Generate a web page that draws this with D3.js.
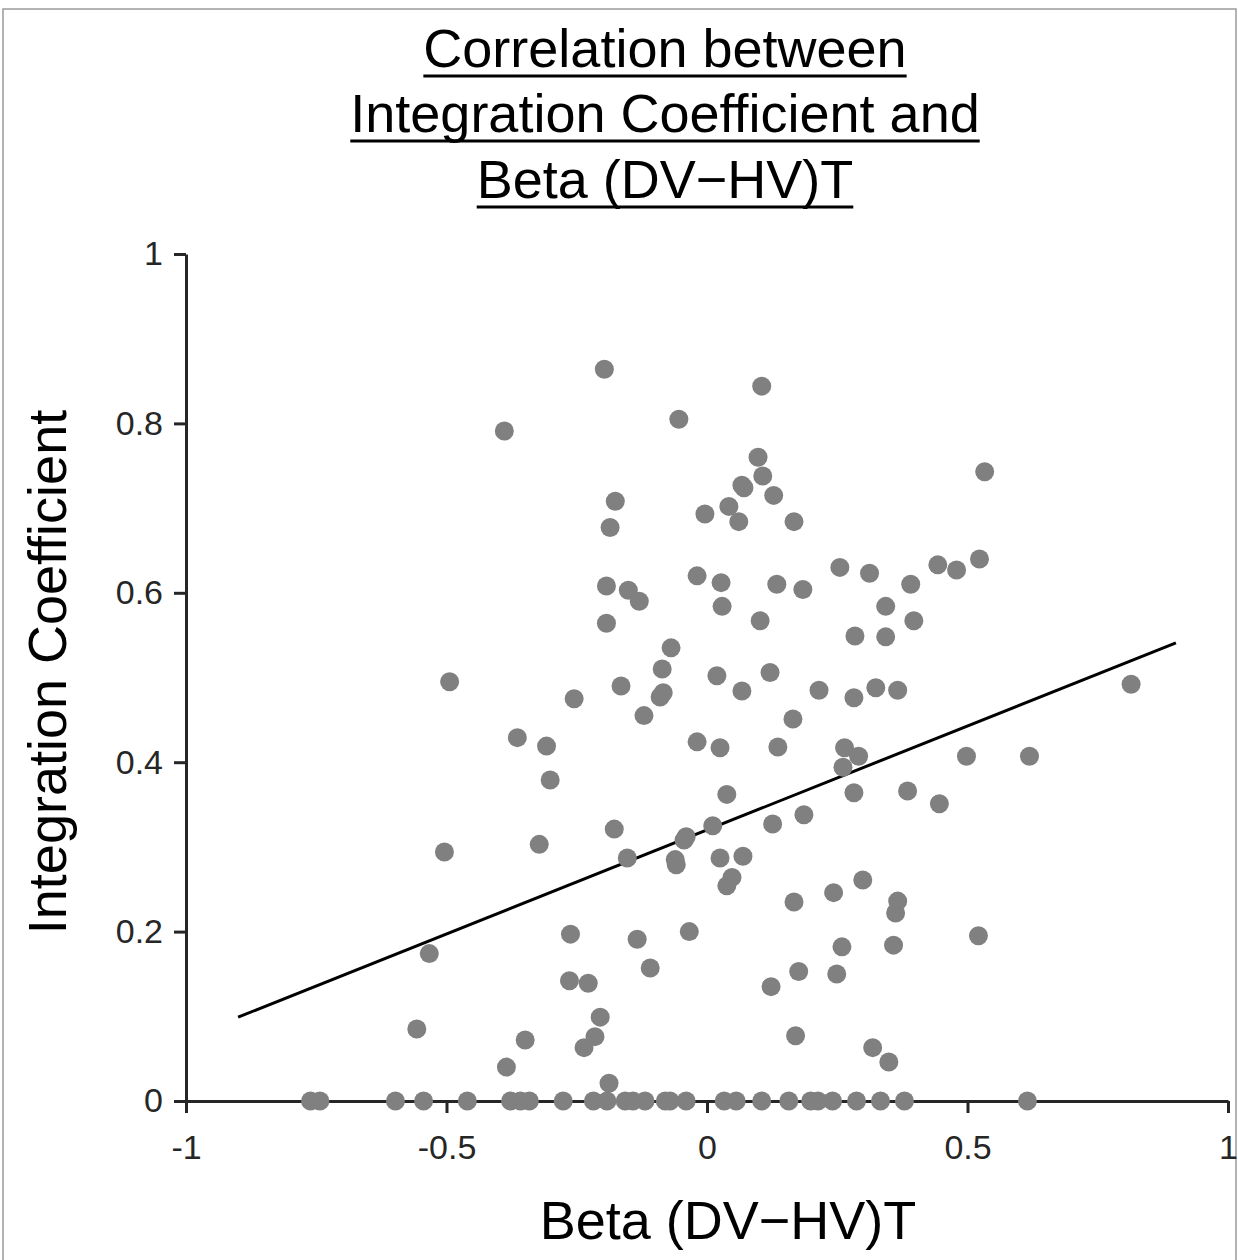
<!DOCTYPE html>
<html>
<head>
<meta charset="utf-8">
<script src="https://cdn.jsdelivr.net/npm/d3@7"></script>
<style>
  body { margin: 0; background: #fff; }
  svg { display: block; font-family: "Liberation Sans", Arial, Helvetica, sans-serif; }
</style>
</head>
<body>
<div id="chart"></div>
<script>
// values
const titleLines = ["Correlation between", "Integration Coefficient and", "Beta (DV\u2212HV)T"];
const xLabel = "Beta (DV\u2212HV)T";
const yLabel = "Integration Coefficient";
const xTicks = [-1, -0.5, 0, 0.5, 1];
const yTicks = [0, 0.2, 0.4, 0.6, 0.8, 1];

const betaX = [
  -0.197, -0.054, -0.389, 0.105, 0.098, 0.107, 0.067, 0.071, 0.128, 0.042,
  0.061, 0.167, -0.004, -0.176, -0.186, 0.533, -0.019, -0.193, -0.151, -0.130,
  0.027, 0.029, 0.134, 0.184, 0.255, 0.312, 0.391, 0.443, 0.479, 0.523,
  -0.193, 0.102, 0.343, 0.397, 0.284, 0.343, -0.069, -0.086, -0.084, -0.090,
  -0.165, -0.255, -0.121, -0.494, 0.019, 0.067, 0.121, 0.215, 0.282, 0.324,
  0.366, 0.165, 0.814, -0.364, -0.308, -0.301, -0.504, -0.322, -0.533, -0.557,
  -0.178, -0.153, -0.019, 0.025, -0.040, -0.044, 0.011, -0.061, -0.059, 0.025,
  0.136, 0.264, 0.291, 0.261, 0.498, 0.619, 0.038, 0.282, 0.385, 0.446,
  0.126, 0.186, 0.069, 0.048, 0.038, 0.299, 0.167, 0.243, 0.366, 0.362,
  0.521, 0.259, 0.358, 0.176, 0.249, 0.123, 0.170, 0.318, 0.349, -0.262,
  -0.134, -0.034, -0.109, -0.264, -0.228, -0.205, -0.215, -0.236, -0.349, -0.385,
  -0.188,
  // zero row
  -0.761, -0.743, -0.598, -0.544, -0.460, -0.377, -0.358, -0.341, -0.276, -0.218,
  -0.192, -0.157, -0.142, -0.119, -0.080, -0.071, -0.040, 0.033, 0.056, 0.105,
  0.157, 0.199, 0.213, 0.241, 0.287, 0.333, 0.379, 0.615
];
const integY = [
  0.864, 0.805, 0.791, 0.844, 0.760, 0.738, 0.727, 0.724, 0.715, 0.702,
  0.684, 0.684, 0.693, 0.708, 0.677, 0.743, 0.620, 0.608, 0.603, 0.590,
  0.612, 0.584, 0.610, 0.604, 0.630, 0.623, 0.610, 0.633, 0.627, 0.640,
  0.564, 0.567, 0.584, 0.567, 0.549, 0.548, 0.535, 0.510, 0.482, 0.477,
  0.490, 0.475, 0.455, 0.495, 0.502, 0.484, 0.506, 0.485, 0.476, 0.488,
  0.485, 0.451, 0.492, 0.429, 0.419, 0.379, 0.294, 0.303, 0.174, 0.085,
  0.321, 0.287, 0.424, 0.417, 0.312, 0.308, 0.325, 0.285, 0.279, 0.287,
  0.418, 0.417, 0.407, 0.394, 0.407, 0.407, 0.362, 0.364, 0.366, 0.351,
  0.327, 0.338, 0.289, 0.264, 0.254, 0.261, 0.235, 0.246, 0.236, 0.222,
  0.195, 0.182, 0.184, 0.153, 0.150, 0.135, 0.077, 0.063, 0.046, 0.197,
  0.191, 0.200, 0.157, 0.142, 0.139, 0.099, 0.076, 0.063, 0.072, 0.040,
  0.021,
  0, 0, 0, 0, 0, 0, 0, 0, 0, 0,
  0, 0, 0, 0, 0, 0, 0, 0, 0, 0,
  0, 0, 0, 0, 0, 0, 0, 0
];
// fitted line end points
const fitX = [-0.9, 0.9];
const fitY = [0.099, 0.541];

const W = 1238, H = 1260;
const svg = d3.select("#chart").append("svg")
  .attr("width", W)
  .attr("height", H);

// frame round the figure
svg.append("rect")
  .attr("x", 3).attr("y", 9)
  .attr("width", 1233).attr("height", 1260)
  .attr("fill", "none")
  .attr("stroke", "#9a9a9a")
  .attr("stroke-width", 1.5);

const x = d3.scaleLinear().domain([-1, 1]).range([186, 1228]);
const y = d3.scaleLinear().domain([0, 1]).range([1101, 254]);

const axisColor = "#262626";
const plainNum = d => String(d);   // keeps the ASCII hyphen as in the figure

const gx = svg.append("g")
  .attr("transform", `translate(0,${y(0)})`)
  .call(d3.axisBottom(x).tickValues(xTicks).tickFormat(plainNum).tickSize(12).tickSizeOuter(0).tickPadding(22));

const gy = svg.append("g")
  .attr("transform", `translate(${x(-1)},0)`)
  .call(d3.axisLeft(y).tickValues(yTicks).tickFormat(plainNum).tickSize(12).tickSizeOuter(0).tickPadding(11));

[gx, gy].forEach(g => {
  g.select(".domain").attr("stroke", axisColor).attr("stroke-width", 3);
  g.selectAll(".tick line").attr("stroke", axisColor).attr("stroke-width", 3);
  g.selectAll(".tick text")
    .attr("fill", axisColor)
    .style("font-size", "34px")
    .style("font-family", "'Liberation Sans', Arial, sans-serif");
});

// regression line
svg.append("line")
  .attr("x1", x(fitX[0])).attr("y1", y(fitY[0]))
  .attr("x2", x(fitX[1])).attr("y2", y(fitY[1]))
  .attr("stroke", "#000")
  .attr("stroke-width", 3);

// points
const pts = betaX.map((b, i) => ({ b: b, v: integY[i] }));
svg.selectAll(".dot")
  .data(pts)
  .enter()
  .append("circle")
  .attr("class", "dot")
  .attr("cx", d => x(d.b))
  .attr("cy", d => y(d.v))
  .attr("r", 9.5)
  .attr("fill", "#808080");

// title, each line underlined
const titleBase = [67, 132, 198];
titleLines.forEach((t, i) => {
  const txt = svg.append("text")
    .attr("x", 665)
    .attr("y", titleBase[i])
    .attr("text-anchor", "middle")
    .style("font-size", "54px")
    .attr("fill", "#000")
    .text(t);
  const w = txt.node().getComputedTextLength();
  svg.append("line")
    .attr("x1", 665 - w / 2).attr("x2", 665 + w / 2)
    .attr("y1", titleBase[i] + 9).attr("y2", titleBase[i] + 9)
    .attr("stroke", "#000")
    .attr("stroke-width", 3);
});

// axis titles
svg.append("text")
  .attr("x", 728)
  .attr("y", 1239)
  .attr("text-anchor", "middle")
  .style("font-size", "54px")
  .attr("fill", "#000")
  .text(xLabel);

svg.append("text")
  .attr("transform", "translate(66,672) rotate(-90)")
  .attr("text-anchor", "middle")
  .style("font-size", "54px")
  .attr("fill", "#000")
  .text(yLabel);
</script>
</body>
</html>
